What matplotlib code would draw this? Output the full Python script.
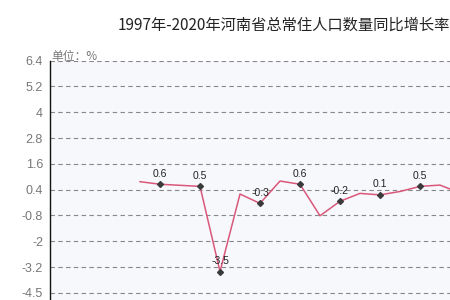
import numpy as np
import matplotlib
matplotlib.use("Agg")
import matplotlib.pyplot as plt

plt.rcParams['font.family'] = ['Noto Sans CJK SC', 'DejaVu Sans']

# year-on-year growth of resident population, %
years = list(range(1997, 2021))
growth = [None, None, None, None, 0.72, 0.6, 0.55, 0.5, -3.5, 0.14, -0.3, 0.75, 0.6,
          -0.88, -0.2, 0.17, 0.1, 0.26, 0.5, 0.56, 0.19, None, None, None]
labelled = [2002, 2004, 2005, 2007, 2009, 2011, 2013, 2015]
label_text = ['0.6', '0.5', '-3.5', '-0.3', '0.6', '-0.2', '0.1', '0.5']

ytick_labels = ['6.4', '5.2', '4', '2.8', '1.6', '0.4', '-0.8', '-2', '-3.2', '-4.5']
yticks = np.linspace(6.4, -4.5, len(ytick_labels))

W, H = 450, 300
fig = plt.figure(figsize=(4.5, 3), dpi=100)
fig.patch.set_facecolor('white')

# axes: left spine at x=50px, 6.4 line at y=60.7px, 21.3 px per unit, 20 px per year
ppu = 21.3
ymin, ymax = -4.9, 6.4
top_px = 60.7
bot_px = top_px + (ymax - ymin) * ppu
left_px = 50
xmin, xmax = 1996.5, 2020.5
right_px = left_px + (xmax - xmin) * 20
ax = fig.add_axes([left_px / W, 1 - bot_px / H, (right_px - left_px) / W, (bot_px - top_px) / H])
ax.set_facecolor('#f7f8fc')
ax.set_xlim(xmin, xmax)
ax.set_ylim(ymin, ymax)

for s in ['top', 'right', 'bottom']:
    ax.spines[s].set_visible(False)
ax.spines['left'].set_color('#111111')
ax.spines['left'].set_linewidth(1.0)

ax.set_yticks(yticks)
ax.set_yticklabels(ytick_labels, color='#777777', fontsize=9, family=['Liberation Sans', 'DejaVu Sans'])
ax.tick_params(axis='y', length=0, pad=5)
ax.set_xticks([])
for yv in yticks:
    ax.axhline(yv, color='#888888', lw=0.8, ls=(0, (4, 3)), zorder=1)

xs = [y for y, v in zip(years, growth) if v is not None]
vs = [v for v in growth if v is not None]
ax.plot(xs, vs, color='#d9587a', lw=1.1, zorder=3)

mv = [growth[years.index(y)] for y in labelled]
ax.plot(labelled, mv, ls='none', marker='D', ms=3, color='#3a3a3a', zorder=4)
for x, v, t in zip(labelled, mv, label_text):
    ax.annotate(t, (x, v), xytext=(0, 4), textcoords='offset points', ha='center', va='bottom',
                fontsize=7.5, color='#222222', family=['Liberation Sans', 'DejaVu Sans'], zorder=5)

fig.text(51 / W, 1 - 60 / H, '单位：%', color='#777777', fontsize=8.5, ha='left', va='baseline')
fig.text(118 / W, 1 - 25 / H, '1997年-2020年河南省总常住人口数量同比增长率', color='#222222',
         fontsize=11, ha='left', va='center', fontweight='light')

fig.savefig('out.png', dpi=100)
